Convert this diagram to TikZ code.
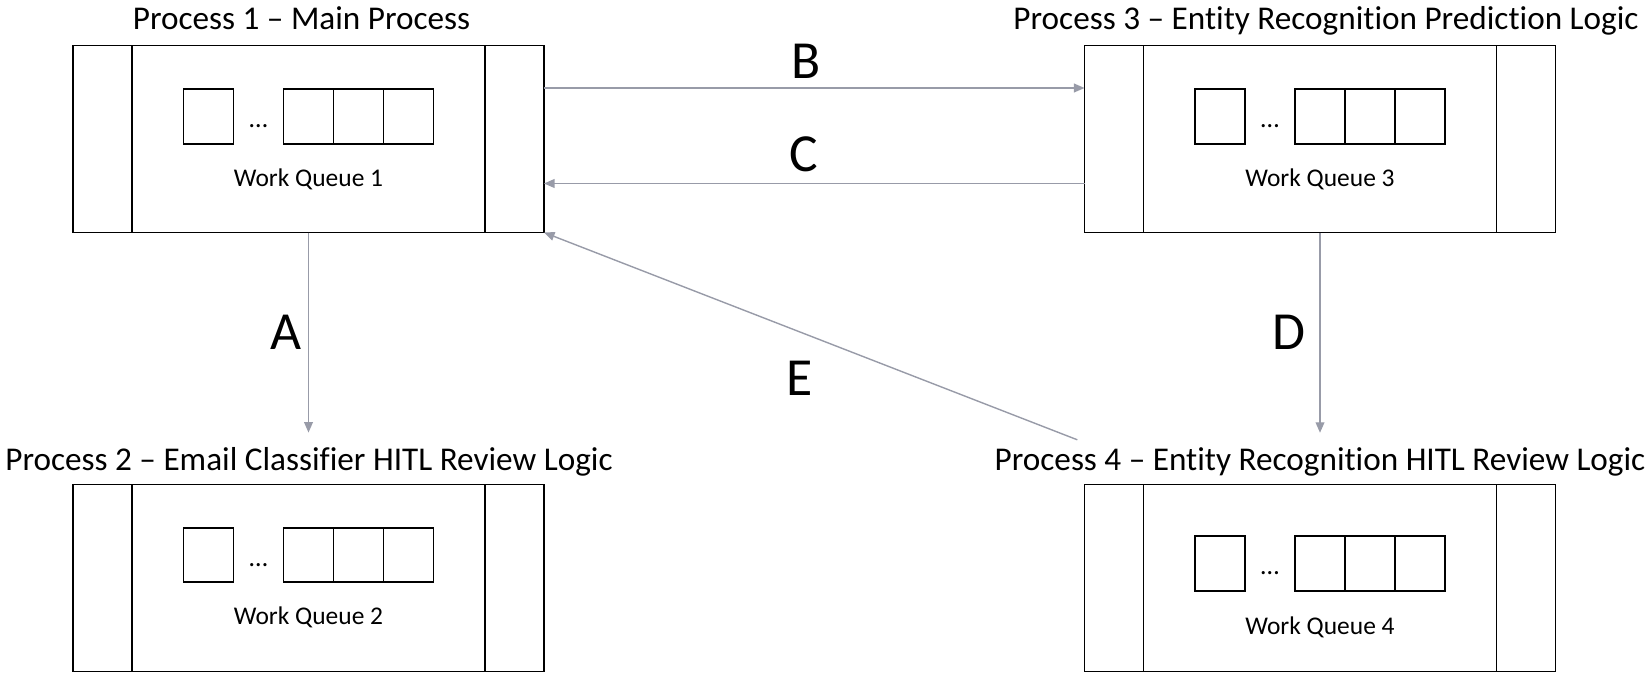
\documentclass[tikz,border=0pt]{standalone}
\usepackage{fontspec}
\setmainfont{Carlito}[Ligatures={NoCommon}]
\usetikzlibrary{positioning,calc,arrows.meta}
\definecolor{flowgray}{RGB}{152,155,168}
\tikzset{
    proc/.style={rectangle, draw, line width=0.9pt, minimum width=9.42cm, minimum height=3.74cm, inner sep=0mm, outer sep=0mm},
    cell/.style={rectangle, draw, line width=0.9pt, minimum width=1cm, minimum height=1.09cm, inner sep=0mm, outer sep=0mm},
    ptitle/.style={anchor=base, inner sep=0mm, font=\fontsize{18.9}{22}\selectfont},
    qlabel/.style={anchor=base, inner sep=0mm, font=\fontsize{14.5}{17}\selectfont},
    gapdots/.style={inner sep=0mm, font=\fontsize{15}{17}\selectfont},
    flow/.style={draw=flowgray, line width=0.8pt, -{Triangle[length=6pt, width=5pt]}},
    letter/.style={inner sep=0mm, font=\fontsize{30.5}{34}\selectfont}
}

\begin{document}
\begin{tikzpicture}
        \useasboundingbox (0cm, 0cm) rectangle (33cm, -13.54cm);
        % the four processes
        \node[proc] (p1) at (6.17cm, -2.78cm) {};
        \node[proc] (p3) at (26.40cm, -2.78cm) {};
        \node[proc] (p2) at (6.17cm, -11.56cm) {};
        \node[proc] (p4) at (26.40cm, -11.56cm) {};
        \node[ptitle] (t1) at (6.03cm, -0.59cm) {Process 1 – Main Process};
        \node[ptitle] (t3) at (26.52cm, -0.59cm) {Process 3 – Entity Recognition Prediction Logic};
        \node[ptitle] (t2) at (6.18cm, -9.40cm) {Process 2 – Email Classifier HITL Review Logic};
        \node[ptitle] (t4) at (26.40cm, -9.40cm) {Process 4 – Entity Recognition HITL Review Logic};
        \draw[line width=0.9pt] ([xshift=1.18cm]p1.north west) -- ([xshift=1.18cm]p1.south west);
        \draw[line width=0.9pt] ([xshift=-1.18cm]p1.north east) -- ([xshift=-1.18cm]p1.south east);
        \draw[line width=0.9pt] ([xshift=1.18cm]p3.north west) -- ([xshift=1.18cm]p3.south west);
        \draw[line width=0.9pt] ([xshift=-1.18cm]p3.north east) -- ([xshift=-1.18cm]p3.south east);
        \draw[line width=0.9pt] ([xshift=1.18cm]p2.north west) -- ([xshift=1.18cm]p2.south west);
        \draw[line width=0.9pt] ([xshift=-1.18cm]p2.north east) -- ([xshift=-1.18cm]p2.south east);
        \draw[line width=0.9pt] ([xshift=1.18cm]p4.north west) -- ([xshift=1.18cm]p4.south west);
        \draw[line width=0.9pt] ([xshift=-1.18cm]p4.north east) -- ([xshift=-1.18cm]p4.south east);
        % work queues
        \node[cell] (q1b) at ($(p1.center)+(0,0.45)$) {};
        \node[cell, right=0cm of q1b] (q1c) {};
        \node[cell, right=0cm of q1c] (q1d) {};
        \node[cell, left=1cm of q1b] (q1a) {};
        \node[gapdots] (g1) at ($(q1a.east)!0.5!(q1b.west)+(0,-0.2)$) {\dots};
        \node[qlabel] (w1) at ($(p1.center)+(0,-0.95)$) {Work Queue 1};
        \node[cell] (q3b) at ($(p3.center)+(0,0.45)$) {};
        \node[cell, right=0cm of q3b] (q3c) {};
        \node[cell, right=0cm of q3c] (q3d) {};
        \node[cell, left=1cm of q3b] (q3a) {};
        \node[gapdots] (g3) at ($(q3a.east)!0.5!(q3b.west)+(0,-0.2)$) {\dots};
        \node[qlabel] (w3) at ($(p3.center)+(0,-0.95)$) {Work Queue 3};
        \node[cell] (q2b) at ($(p2.center)+(0,0.46)$) {};
        \node[cell, right=0cm of q2b] (q2c) {};
        \node[cell, right=0cm of q2c] (q2d) {};
        \node[cell, left=1cm of q2b] (q2a) {};
        \node[gapdots] (g2) at ($(q2a.east)!0.5!(q2b.west)+(0,-0.2)$) {\dots};
        \node[qlabel] (w2) at ($(p2.center)+(0,-0.93)$) {Work Queue 2};
        \node[cell] (q4b) at ($(p4.center)+(0,0.29)$) {};
        \node[cell, right=0cm of q4b] (q4c) {};
        \node[cell, right=0cm of q4c] (q4d) {};
        \node[cell, left=1cm of q4b] (q4a) {};
        \node[gapdots] (g4) at ($(q4a.east)!0.5!(q4b.west)+(0,-0.2)$) {\dots};
        \node[qlabel] (w4) at ($(p4.center)+(0,-1.12)$) {Work Queue 4};
        % hand-offs
        \coordinate (a2) at ($(p1.south |- t2.north)+(0,0.28)$);
        \coordinate (a4) at ($(p3.south |- t4.north)+(0,0.28)$);
        \coordinate (e0) at ($(t4.north west)+(1.66,0.14)$);
        \draw[flow] (p1.south) -- (a2) node[letter, midway, left=0.12cm] {A};
        \draw[flow] ([yshift=-0.85cm]p1.north east) -- ([yshift=-0.85cm]p3.north west) node[letter, pos=0.485, above=0.18cm] {B};
        \draw[flow] ([yshift=-2.76cm]p3.north west) -- ([yshift=-2.76cm]p1.north east) node[letter, pos=0.52, above=0.22cm] {C};
        \draw[flow] (p3.south) -- (a4) node[letter, midway, left=0.27cm] {D};
        \draw[flow] (e0) -- (p1.south east) node[letter, pos=0.52, below=0.56cm] {E};
\end{tikzpicture}
\end{document}
